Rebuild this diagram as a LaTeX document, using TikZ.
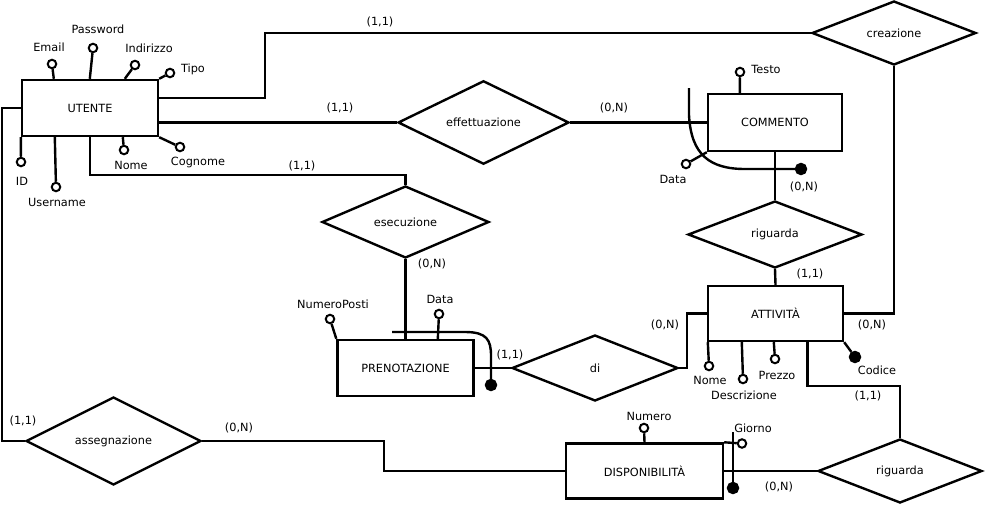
\documentclass[tikz,border=0pt]{standalone}
\usepackage{fontspec}
\setmainfont{DejaVu Sans}
\usetikzlibrary{shapes.geometric,calc}

\begin{document}
\begin{tikzpicture}[x=1pt,y=-1pt,
  every node/.style={font=\fontsize{11.3}{13}\selectfont},
  line width=2.4pt,
  entity/.style={draw,rectangle,inner sep=0pt},
  relation/.style={draw,diamond,inner sep=0pt},
  attr/.style={draw,circle,fill=white,inner sep=0pt,minimum size=8.5pt,line width=2pt},
  keyattr/.style={draw,circle,fill=black,inner sep=0pt,minimum size=10pt},
  lbl/.style={inner sep=0pt},
  card/.style={inner sep=0pt}]

\useasboundingbox (0,0) rectangle (985,506);

% ---------- entities ----------
\node[entity,minimum width=136pt,minimum height=56pt] (utente) at (90,108) {UTENTE};
\node[entity,minimum width=134pt,minimum height=57pt] (commento) at (775,122.5) {COMMENTO};
\node[entity,minimum width=135pt,minimum height=55pt] (attivita) at (775.5,313.5) {ATTIVITÀ};
\node[entity,minimum width=136pt,minimum height=56pt] (prenotazione) at (405.5,368) {PRENOTAZIONE};
\node[entity,minimum width=157pt,minimum height=55pt] (disponibilita) at (644.5,471) {DISPONIBILITÀ};

% ---------- relationships ----------
\node[relation,minimum width=164pt,minimum height=64pt] (creazione) at (894,33) {creazione};
\node[relation,minimum width=171pt,minimum height=66pt] (effettuazione) at (483.5,122.5) {effettuazione};
\node[relation,minimum width=167pt,minimum height=64pt] (esecuzione) at (405.5,222) {esecuzione};
\node[relation,minimum width=174pt,minimum height=67pt] (riguardaA) at (775,234.5) {riguarda};
\node[relation,minimum width=166pt,minimum height=66pt] (di) at (595,368) {di};
\node[relation,minimum width=175pt,minimum height=68pt] (assegnazione) at (113.5,441) {assegnazione};
\node[relation,minimum width=164pt,minimum height=64pt] (riguardaB) at (900,471) {riguarda};

% ---------- connectors ----------
\draw ($(utente.east)+(0,-10)$) -- ++(106,0) |- (creazione.west);
\draw (creazione.south) |- (attivita.east);
\draw (effettuazione.west) -- (effettuazione.west -| utente.east);
\draw (effettuazione.east) -- (commento.west);
\draw (utente.south) |- ($(esecuzione.north)+(0,-10)$) -- (esecuzione.north);
\draw (esecuzione.south) -- (prenotazione.north);
\draw (utente.west) -- ++(-19,0) |- (assegnazione.west);
\draw (assegnazione.east) -- ++(182,0) |- (disponibilita.west);
\draw (commento.south) -- (riguardaA.north);
\draw (riguardaA.south) -- (attivita.north);
\draw (attivita.west) -- ++(-20,0) |- (di.east);
\draw (prenotazione.east) -- (di.west);
\draw ($(attivita.south)+(32,0)$) -- ++(0,44) -| (riguardaB.north);
\draw (disponibilita.east) -- (riguardaB.west);

% ---------- cardinalities ----------
\node[card] (c-cre) at (380,22) {(1,1)};
\node[card] (c-att-r) at (872,325) {(0,N)};
\node[card] (c-eff-l) at (340,108) {(1,1)};
\node[card] (c-eff-r) at (614,108) {(0,N)};
\node[card] (c-ese-t) at (302,166) {(1,1)};
\node[card] (c-ese-b) at (432,264) {(0,N)};
\node[card] (c-com) at (804,187) {(0,N)};
\node[card] (c-att-t) at (810,274) {(1,1)};
\node[card] (c-att-l) at (665,325) {(0,N)};
\node[card] (c-att-b) at (868,396) {(1,1)};
\node[card] (c-pre) at (510,355) {(1,1)};
\node[card] (c-ass-l) at (23,421) {(1,1)};
\node[card] (c-ass-r) at (239,428) {(0,N)};
\node[card] (c-dis) at (779,487) {(0,N)};

% ---------- attributes of UTENTE ----------
\node[attr] (u-email) at (52,64) {};
\node[lbl] (u-email-l) at (49,47) {Email};
\draw ($(utente.north west)+(33,0)$) -- (u-email);
\node[attr] (u-pwd) at (93,48) {};
\node[lbl] (u-pwd-l) at (98,29) {Password};
\draw ($(utente.north west)+(69,0)$) -- (u-pwd);
\node[attr] (u-ind) at (135,65) {};
\node[lbl] (u-ind-l) at (149,48) {Indirizzo};
\draw ($(utente.north west)+(104,0)$) -- (u-ind);
\node[attr] (u-tipo) at (170,73) {};
\node[lbl] (u-tipo-l) at (193,69) {Tipo};
\draw (utente.north east) -- (u-tipo);
\node[attr] (u-id) at (21,162) {};
\node[lbl] (u-id-l) at (22,181) {ID};
\draw (utente.south west) -- (u-id);
\node[attr] (u-user) at (56,187) {};
\node[lbl] (u-user-l) at (57,202) {Username};
\draw ($(utente.south west)+(34,0)$) -- (u-user);
\node[attr] (u-nome) at (124,150) {};
\node[lbl] (u-nome-l) at (131,165) {Nome};
\draw ($(utente.south west)+(102,0)$) -- (u-nome);
\node[attr] (u-cogn) at (180,147) {};
\node[lbl] (u-cogn-l) at (198,162) {Cognome};
\draw (utente.south east) -- (u-cogn);

% ---------- attributes of COMMENTO ----------
\node[attr] (c-testo) at (740,72) {};
\node[lbl] (c-testo-l) at (766,69) {Testo};
\draw ($(commento.north west)+(33,0)$) -- (c-testo);
\node[attr] (c-data) at (686,164) {};
\node[lbl] (c-data-l) at (673,179) {Data};
\draw (commento.south west) -- (c-data);
\coordinate (c-key-start) at (689,88);
\node[keyattr] (c-key) at (801,169) {};
\draw (c-key-start) -- ++(0,27) .. controls (691,155) and (710,169) .. (745,169) -- (c-key);

% ---------- attributes of ATTIVITÀ ----------
\node[attr] (a-nome) at (709,366) {};
\node[lbl] (a-nome-l) at (710,380) {Nome};
\draw ($(attivita.south west)+(1,0)$) -- (a-nome);
\node[attr] (a-descr) at (743,379) {};
\node[lbl] (a-descr-l) at (744,395) {Descrizione};
\draw ($(attivita.south west)+(35,0)$) -- (a-descr);
\node[attr] (a-prezzo) at (775,359) {};
\node[lbl] (a-prezzo-l) at (777,375) {Prezzo};
\draw ($(attivita.south west)+(67,0)$) -- (a-prezzo);
\node[keyattr] (a-cod) at (855,357) {};
\node[lbl] (a-cod-l) at (877,370) {Codice};
\draw (attivita.south east) -- (a-cod);

% ---------- attributes of PRENOTAZIONE ----------
\node[attr] (p-posti) at (330,319) {};
\node[lbl] (p-posti-l) at (333,304) {NumeroPosti};
\draw (prenotazione.north west) -- (p-posti);
\node[attr] (p-data) at (439,314) {};
\node[lbl] (p-data-l) at (440,299) {Data};
\draw ($(prenotazione.north west)+(101.5,0)$) -- (p-data);
\coordinate (p-key-start) at (392,332);
\node[keyattr] (p-key) at (491,385) {};
\draw (p-key-start) -- (465,332) .. controls (487,332) and (491,340) .. (491,356) -- (p-key);

% ---------- attributes of DISPONIBILITÀ ----------
\node[attr] (d-num) at (644,428) {};
\node[lbl] (d-num-l) at (649,416) {Numero};
\draw (disponibilita.north) -- (d-num);
\node[attr] (d-giorno) at (742,443.5) {};
\node[lbl] (d-giorno-l) at (753,428) {Giorno};
\draw (disponibilita.north east) -- (d-giorno);
\coordinate (d-key-start) at (733,432);
\node[keyattr] (d-key) at (733,488) {};
\draw (d-key-start) -- (d-key);

\end{tikzpicture}
\end{document}
